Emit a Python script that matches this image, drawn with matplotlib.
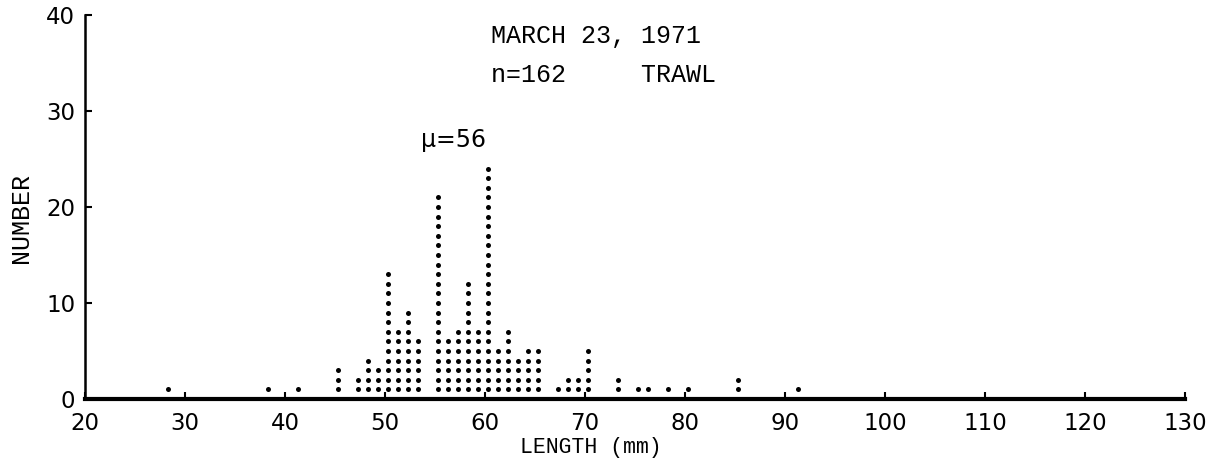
import matplotlib
matplotlib.use("Agg")
import matplotlib.pyplot as plt

# Length-frequency of the trawl catch (one dot per fish)
lengths_mm = [29, 39, 42, 46, 48, 49, 50, 51, 52, 53, 54, 56, 57, 58, 59, 60,
              61, 62, 63, 64, 65, 66, 68, 69, 70, 71, 74, 76, 77, 79, 81, 86, 92]
counts = [1, 1, 1, 3, 2, 4, 3, 13, 7, 9, 6, 21, 6, 7, 12, 7,
          24, 5, 7, 4, 5, 5, 1, 2, 2, 5, 2, 1, 1, 1, 1, 2, 1]

x_ticks = [20, 30, 40, 50, 60, 70, 80, 90, 100, 110, 120, 130]
y_ticks = [0, 10, 20, 30, 40]

title_line1 = "MARCH 23, 1971"
title_line2 = "n=162     TRAWL"
mode_label = "\u00b5=56"
x_label = "LENGTH (mm)"
y_label = "NUMBER"

typewriter = "Liberation Mono"
lettering = "DejaVu Sans"

fig = plt.figure(figsize=(12.12, 4.70), dpi=100)
ax = fig.add_axes([0.0701, 0.151, 0.9076, 0.817])

# dots are set just left of each millimetre mark, as on the tally sheet
dot_shift = -0.7
xs, ys = [], []
for L, c in zip(lengths_mm, counts):
    for k in range(1, c + 1):
        xs.append(L + dot_shift)
        ys.append(k)
ax.plot(xs, ys, linestyle="none", marker="o", markersize=3.6,
        color="black", markeredgewidth=0)

ax.set_xlim(20, 130)
ax.set_ylim(0, 40)

for side in ("top", "right"):
    ax.spines[side].set_visible(False)
ax.spines["bottom"].set_linewidth(3.0)
ax.spines["left"].set_linewidth(1.8)

ax.set_xticks(x_ticks)
ax.set_yticks(y_ticks)
ax.set_xticklabels([str(v) for v in x_ticks], fontfamily=lettering, fontsize=16.5)
ax.set_yticklabels([str(v) for v in y_ticks], fontfamily=lettering, fontsize=16.5)
ax.tick_params(axis="x", direction="in", length=5, width=1.5, pad=9)
ax.tick_params(axis="y", direction="in", length=5, width=1.5, pad=7)

ax.set_xlabel(x_label, fontfamily=typewriter, fontsize=15.5)
ax.xaxis.set_label_coords(0.46, -0.098)
ax.set_ylabel(y_label, fontfamily=typewriter, fontsize=18)
ax.yaxis.set_label_coords(-0.047, 0.471)

ax.text(60.6, 37.8, title_line1, fontfamily=typewriter, fontsize=18,
        ha="left", va="center")
ax.text(60.6, 33.8, title_line2, fontfamily=typewriter, fontsize=18,
        ha="left", va="center")
ax.text(56.9, 27.0, mode_label, fontfamily=lettering, fontsize=17,
        ha="center", va="center")

fig.savefig("out.png", dpi=100)
